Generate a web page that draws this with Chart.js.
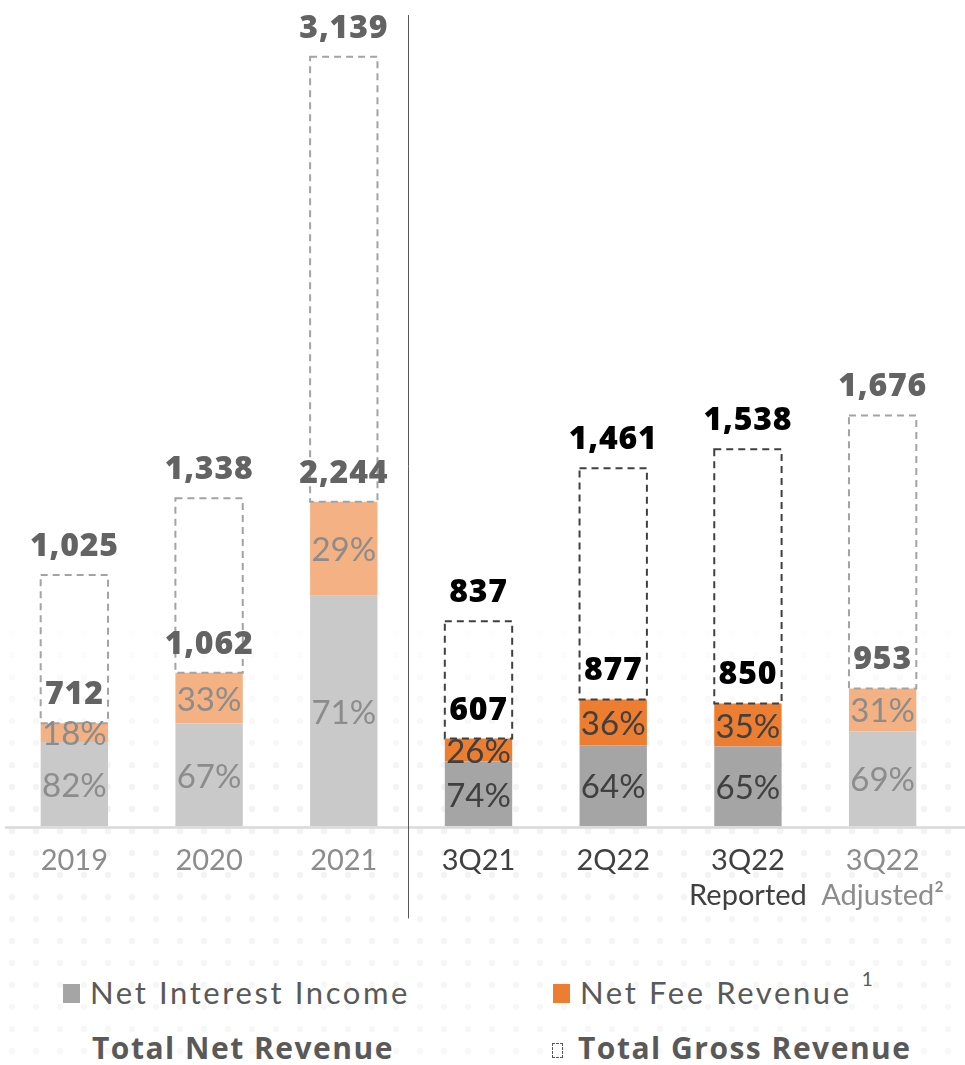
<!DOCTYPE html>
<html>
<head>
<meta charset="utf-8">
<script src="https://cdn.jsdelivr.net/npm/chart.js@4.4.1/dist/chart.umd.min.js"></script>
<style>
  html, body { margin: 0; padding: 0; background: #fff; }
  body { width: 965px; height: 1065px; position: relative; overflow: hidden; font-family: Lato, sans-serif; }
  .dots {
    position: absolute; left: 0; top: 600px; width: 965px; height: 465px;
    background-image: radial-gradient(circle, #f3f3f3 3px, rgba(255,255,255,0) 3.6px);
    background-size: 24px 22px;
    -webkit-mask-image: linear-gradient(to bottom, rgba(0,0,0,0) 0%, rgba(0,0,0,1) 45%, rgba(0,0,0,0.6) 100%);
  }
  canvas { position: absolute; left: 0; top: 0; }
  .lg { position: absolute; color: #595959; white-space: nowrap; line-height: 1; }
  .lg.light { font-family: Lato, sans-serif; font-weight: 400; font-size: 31px; letter-spacing: 2.6px; }
  .lg.bold { font-family: "Open Sans", sans-serif; font-weight: 700; font-size: 30px; letter-spacing: 1.5px; }
  .sw { position: absolute; }
  sup { font-size: 19px; position: relative; top: -8px; vertical-align: top; margin-left: 10px; letter-spacing: 0; }
</style>
</head>
<body>
<div class="dots"></div>
<canvas id="revChart" width="965" height="930"></canvas>

<!-- legend -->
<div class="sw" style="left:63px;top:984px;width:17px;height:19px;background:#a5a5a5"></div>
<div class="lg light" style="left:90px;top:977px">Net Interest Income</div>
<div class="sw" style="left:553px;top:984px;width:17px;height:19px;background:#ed7d31"></div>
<div class="lg light" style="left:580px;top:977px">Net Fee Revenue<sup>1</sup></div>
<div class="lg bold" style="left:92px;top:1033px">Total Net Revenue</div>
<div class="sw" style="left:552px;top:1043px;width:9px;height:13px;border:1.5px dashed #595959"></div>
<div class="lg bold" style="left:578px;top:1033px">Total Gross Revenue</div>

<script>
// categories and values (R$ mn)
const periods = ['2019', '2020', '2021', '3Q21', '2Q22', '3Q22', '3Q22'];
const periodNotes = ['', '', '', '', '', 'Reported', 'Adjusted²'];
const netRevenue = [712, 1062, 2244, 607, 877, 850, 953];
const grossRevenue = [1025, 1338, 3139, 837, 1461, 1538, 1676];
const interestShare = [82, 67, 71, 74, 64, 65, 69];   // % of net revenue
const feeShare = [18, 33, 29, 26, 36, 35, 31];        // % of net revenue

const interestValues = netRevenue.map((v, i) => v * interestShare[i] / 100);
const feeValues = netRevenue.map((v, i) => v * feeShare[i] / 100);

// quarterly reported columns are drawn in the strong palette
const strong = [false, false, false, true, true, true, false];
const pick = (a, b) => strong.map(s => s ? a : b);

const greyFill = pick('#a5a5a5', '#c9c9c9');
const orangeFill = pick('#ed7d31', '#f4b183');
const pctColor = pick('#404040', '#8c8c8c');
const numColor = pick('#000000', '#636363');
const boxColor = pick('#404040', '#a3a3a3');
const tickColor = pick('#404040', '#8c8c8c');

const fmt = v => v.toLocaleString('en-US');

// dashed gross boxes, value labels, divider and baseline
const labelsPlugin = {
  id: 'revLabels',
  afterDatasetsDraw(chart) {
    const ctx = chart.ctx;
    const nii = chart.getDatasetMeta(0).data;
    const nfr = chart.getDatasetMeta(1).data;
    const gross = chart.getDatasetMeta(2).data;
    const area = chart.chartArea;
    ctx.save();

    // baseline
    ctx.strokeStyle = '#d9d9d9';
    ctx.lineWidth = 2.5;
    ctx.beginPath();
    ctx.moveTo(5, area.bottom + 1);
    ctx.lineTo(chart.width, area.bottom + 1);
    ctx.stroke();

    // divider between annual and quarterly columns
    const xs = chart.scales.x;
    const divX = Math.round((xs.getPixelForValue(2) + xs.getPixelForValue(3)) / 2) - 2.5;
    ctx.strokeStyle = '#595959';
    ctx.lineWidth = 1;
    ctx.beginPath();
    ctx.moveTo(divX, 15);
    ctx.lineTo(divX, area.bottom + 92);
    ctx.stroke();

    ctx.textAlign = 'center';
    for (let i = 0; i < periods.length; i++) {
      const bar = nfr[i];
      const x = bar.x, w = bar.width;
      const netTop = bar.y;
      const grossTop = gross[i].y;

      // gross revenue outline
      ctx.strokeStyle = boxColor[i];
      ctx.lineWidth = 2;
      ctx.setLineDash([7, 5]);
      ctx.strokeRect(x - w / 2, grossTop, w, netTop - grossTop);
      ctx.setLineDash([]);

      // share labels
      ctx.fillStyle = pctColor[i];
      ctx.font = '400 33px Lato';
      ctx.letterSpacing = '0px';
      ctx.textBaseline = 'middle';
      ctx.fillText(interestShare[i] + '%', x, (nii[i].y + nii[i].base) / 2 + 2);
      ctx.fillText(feeShare[i] + '%', x, (bar.y + bar.base) / 2 + 2);

      // totals
      ctx.fillStyle = numColor[i];
      ctx.font = '800 32px "Open Sans"';
      ctx.letterSpacing = '0.8px';
      ctx.textBaseline = 'alphabetic';
      ctx.fillText(fmt(netRevenue[i]), x, netTop - 19);
      ctx.fillText(fmt(grossRevenue[i]), x, grossTop - 19);
    }
    ctx.restore();
  }
};

new Chart(document.getElementById('revChart'), {
  type: 'bar',
  data: {
    labels: periods.map((p, i) => periodNotes[i] ? [p, periodNotes[i]] : p),
    datasets: [
      {
        label: 'Net Interest Income',
        data: interestValues,
        backgroundColor: greyFill,
        stack: 'net',
        yAxisID: 'y'
      },
      {
        label: 'Net Fee Revenue',
        data: feeValues,
        backgroundColor: orangeFill,
        stack: 'net',
        yAxisID: 'y'
      },
      {
        label: 'Total Gross Revenue',
        data: grossRevenue,
        backgroundColor: 'rgba(0,0,0,0)',
        borderWidth: 0,
        grouped: false,
        yAxisID: 'y2'
      }
    ]
  },
  options: {
    responsive: false,
    animation: false,
    barPercentage: 0.5,
    categoryPercentage: 1.0,
    layout: { padding: { left: 7, right: 15, top: 0, bottom: 0 } },
    plugins: {
      legend: { display: false },
      tooltip: { enabled: false }
    },
    scales: {
      x: {
        stacked: true,
        grid: { display: false, drawTicks: false },
        border: { display: false },
        ticks: {
          padding: 17,
          maxRotation: 0,
          autoSkip: false,
          color: ctx => tickColor[ctx.index],
          font: { family: 'Lato', size: 29, weight: 400, lineHeight: 1.2 }
        }
      },
      y: {
        stacked: true,
        display: false,
        min: 0,
        max: 5710
      },
      y2: {
        stacked: false,
        display: false,
        min: 0,
        max: 3370
      }
    }
  },
  plugins: [labelsPlugin]
});
</script>
</body>
</html>
